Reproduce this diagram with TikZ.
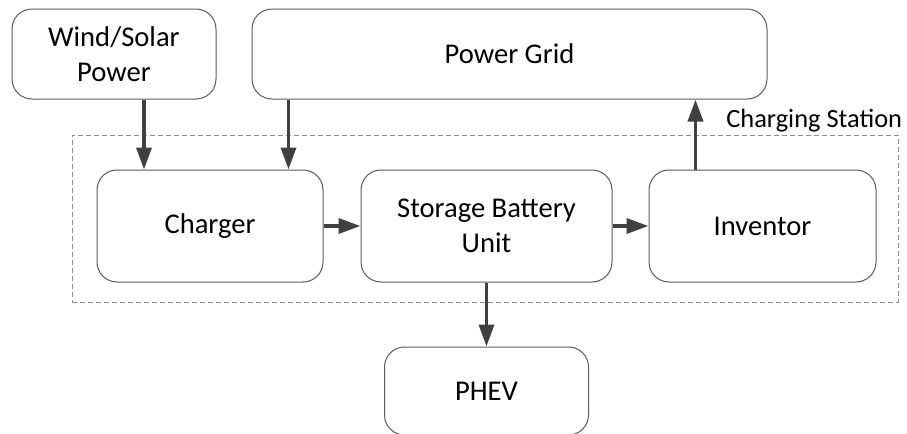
\documentclass[tikz,border=0pt]{standalone}
\usepackage{fontspec}
\setmainfont{Carlito}
\usepackage{xcolor}
\usetikzlibrary{positioning,arrows.meta}
\definecolor{edgegray}{HTML}{5A5A5A}
\definecolor{arrowgray}{HTML}{404040}
\definecolor{framegray}{HTML}{8C8C8C}

\begin{document}
\begin{tikzpicture}[
  x=0.5pt, y=-0.5pt,
  font=\fontsize{14.3}{17.5}\selectfont,
  blk/.style={draw=edgegray, line width=0.5pt, rounded corners=10pt, align=center,
              inner sep=2pt, minimum height=45pt},
  rowblk/.style={blk, minimum height=56pt},
  frame/.style={draw=framegray, dash pattern=on 2.5pt off 1.5pt, line width=0.5pt, inner sep=0pt},
  arr/.style={-{Triangle[length=11pt, width=7.5pt]}, line width=1.8pt, arrowgray},
  lab/.style={font=\fontsize{13.2}{15}\selectfont, inner sep=0pt},
  node distance=18pt
]
\useasboundingbox (0,0) rectangle (907,434);
% ----- sources, top row -----
\node[blk, minimum width=102pt] (wind) at (114,54) {Wind/Solar\\Power};
\node[blk, minimum width=257.5pt] (grid) at (509.5,54) {Power Grid};
% ----- charging station frame -----
\node[frame, minimum width=413pt, minimum height=83.5pt] (station) at (485,218.5) {};
\node[lab, anchor=base east] (stationlab) at ([xshift=2pt, yshift=3.5pt]station.north east) {Charging Station};
% ----- station row -----
\node[rowblk, minimum width=113pt] (charger) at (210,226) {Charger};
\node[rowblk, minimum width=125.5pt, right=18.5pt of charger] (storage) {Storage Battery\\Unit};
\node[rowblk, minimum width=113.5pt, right=18pt of storage] (inventor) {Inventor};
% ----- vehicle -----
\node[blk, minimum width=102pt, minimum height=44pt, below=32pt of storage] (phev) {PHEV};
% ----- connectors -----
\draw[arr] ([xshift=15pt]wind.south) -- ([xshift=15pt]wind.south |- charger.north);
\draw[arr] ([xshift=18.5pt]grid.south west) -- ([xshift=18.5pt]grid.south west |- charger.north);
\foreach \a/\b in {charger/storage, storage/inventor, storage/phev}{\draw[arr] (\a) -- (\b);}
\draw[arr] ([xshift=23.5pt]inventor.north west) -- ([xshift=23.5pt]inventor.north west |- grid.south);
\end{tikzpicture}
\end{document}
